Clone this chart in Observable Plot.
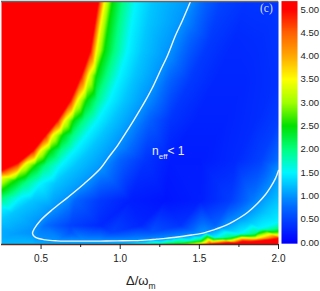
<!DOCTYPE html>
<html><head><meta charset="utf-8">
<script src="https://cdn.jsdelivr.net/npm/d3@7"></script>
<script src="https://cdn.jsdelivr.net/npm/@observablehq/plot@0.6"></script>
<style>
body{margin:0;background:#fff;}
#wrap{position:relative;width:320px;height:291px;overflow:hidden;font-family:"Liberation Sans",Arial,sans-serif;}
#main{position:absolute;left:0;top:0;}
#bar{position:absolute;left:280px;top:0;}
.lbl{position:absolute;white-space:nowrap;}
</style></head>
<body>
<div id="wrap">
<div id="main"></div>
<div id="bar"></div>
<div class="lbl" style="left:126px;top:274px;font-size:13px;line-height:13px;color:#222;">Δ/ω<span style="font-size:8.5px;position:relative;top:4px;">m</span></div>
<div class="lbl" style="left:152px;top:145px;font-size:12px;line-height:12px;color:#eef;">n<span style="font-size:8px;position:relative;top:4px;">eff</span>&lt; 1</div>
<div class="lbl" style="left:260px;top:2px;font-family:'Liberation Serif',serif;font-size:11.5px;line-height:12px;color:#dde;">(c)</div>
</div>
<script>
// ---- axis ticks ----
const xMajor = [0.5, 1.0, 1.5, 2.0];
const xMinor = [0.75, 1.25, 1.75];
const cbTicks = [0, 0.5, 1, 1.5, 2, 2.5, 3, 3.5, 4, 4.5, 5];

// ---- colour palette (value stops -> colours) ----
const colorStops = [0, 0.5, 0.75, 1, 1.25, 1.5, 2, 2.5, 3, 3.5, 4, 4.5, 5];
const colorHex = ["#0000ff", "#0044ff", "#0068ff", "#0094ff", "#00c6ff", "#00f6ff", "#00ff80", "#00e000", "#a0ff00", "#ffff00", "#ffa800", "#ff6000", "#ff0000"];

// ---- iso-lines of n_eff: [Δ/ωm, y] ----
const n5Edge = [[0.863,1.0],[0.838,0.901],[0.812,0.798],[0.755,0.695],[0.686,0.593],[0.604,0.510],[0.528,0.449],[0.452,0.387],[0.357,0.337],[0.25,0.305]];
const n35Edge = [[0.901,1.0],[0.875,0.901],[0.850,0.798],[0.80,0.695],[0.73,0.593],[0.648,0.510],[0.572,0.449],[0.496,0.387],[0.402,0.333],[0.25,0.276]];
const n25Edge = [[0.951,1.0],[0.926,0.901],[0.901,0.798],[0.850,0.695],[0.787,0.593],[0.705,0.510],[0.635,0.449],[0.560,0.387],[0.465,0.325],[0.338,0.263],[0.25,0.222]];
const n2Edge = [[1.014,1.0],[0.989,0.901],[0.964,0.798],[0.913,0.695],[0.850,0.593],[0.768,0.510],[0.699,0.449],[0.623,0.387],[0.528,0.325],[0.402,0.255],[0.25,0.189]];
const n15Edge = [[1.097,1.0],[1.071,0.901],[1.046,0.798],[0.995,0.695],[0.932,0.593],[0.856,0.510],[0.787,0.449],[0.711,0.387],[0.623,0.325],[0.496,0.251],[0.370,0.193],[0.25,0.152]];
const n125Edge = [[1.204,1.0],[1.172,0.901],[1.141,0.798],[1.090,0.695],[1.027,0.593],[0.951,0.510],[0.882,0.449],[0.806,0.387],[0.717,0.325],[0.591,0.251],[0.446,0.181],[0.319,0.128],[0.25,0.099]];
const n1Line = [[1.444,1.0],[1.393,0.922],[1.349,0.860],[1.299,0.778],[1.254,0.716],[1.204,0.646],[1.160,0.593],[1.122,0.551],[1.084,0.510],[1.033,0.457],[0.983,0.407],[0.926,0.358],[0.875,0.313],[0.774,0.251],[0.667,0.193],[0.572,0.144],[0.496,0.099],[0.458,0.066],[0.446,0.045],[0.465,0.029],[0.528,0.019],[0.60,0.015],[0.667,0.014],[0.77,0.014],[0.875,0.014],[0.98,0.015],[1.084,0.016],[1.13,0.017],[1.18,0.019],[1.23,0.022],[1.286,0.025],[1.34,0.029],[1.40,0.034],[1.45,0.039],[1.507,0.045],[1.54,0.050],[1.57,0.056],[1.60,0.062],[1.633,0.070],[1.67,0.080],[1.716,0.095],[1.76,0.112],[1.804,0.132],[1.867,0.169],[1.918,0.206],[1.949,0.235],[1.981,0.272],[2.0,0.305]];
const n125Bottom = [[2.0,0.181],[1.918,0.132],[1.823,0.091],[1.697,0.058],[1.507,0.033],[1.318,0.019],[1.128,0.010],[1.002,0]];
const n15Bottom = [[2.0,0.091],[1.886,0.066],[1.760,0.045],[1.602,0.029],[1.444,0.019],[1.254,0.008],[1.128,0]];
const n2Bottom = [[2.0,0.066],[1.855,0.045],[1.697,0.031],[1.507,0.019],[1.318,0.008],[1.223,0]];
const n25Bottom = [[2.0,0.053],[1.855,0.037],[1.697,0.025],[1.507,0.012],[1.349,0]];
const n35Bottom = [[2.0,0.037],[1.855,0.025],[1.697,0.014],[1.476,0]];
const n5Bottom = [[2.0,0.025],[1.855,0.014],[1.697,0.008],[1.57,0]];

// ---- single readings [Δ/ωm, y, n_eff] ----
const redCore = [[0.25,1,7],[0.55,1,7],[0.25,0.6,7],[0.25,0.4,6],[0.4,0.7,7],[0.6,0.85,7],[2.0,0,8],[1.78,0,6.5]];
const innerPts = [
  [1.539,1.0,0.7],[1.634,1.0,0.5],[1.791,1.0,0.38],[2.0,1.0,0.4],
  [1.444,0.84,0.7],[1.57,0.84,0.42],[1.728,0.84,0.3],[1.886,0.84,0.33],[2.0,0.84,0.38],
  [1.318,0.675,0.7],[1.444,0.675,0.42],[1.602,0.675,0.28],[1.791,0.675,0.28],[2.0,0.675,0.36],
  [1.191,0.510,0.68],[1.318,0.510,0.38],[1.476,0.510,0.25],[1.665,0.510,0.25],[1.855,0.510,0.32],[2.0,0.510,0.45],
  [1.002,0.346,0.7],[1.160,0.346,0.38],[1.318,0.346,0.2],[1.507,0.346,0.2],[1.728,0.346,0.3],[1.886,0.346,0.48],[2.0,0.346,0.8],
  [0.717,0.181,0.72],[0.875,0.181,0.42],[1.065,0.181,0.22],[1.286,0.181,0.15],[1.507,0.181,0.22],[1.697,0.181,0.45],[1.836,0.181,0.85],
  [0.528,0.078,0.78],[0.686,0.078,0.48],[0.875,0.078,0.3],[1.128,0.078,0.28],[1.381,0.078,0.38],[1.602,0.078,0.72],
  [0.686,0.050,0.6],[0.95,0.050,0.48],[1.2,0.050,0.6]
];
const edgePts = [[0.25,0,1.2],[0.45,0,1.2],[0.7,0,1.18],[0.9,0,1.2],[0.25,0.025,1.12],[0.25,0.058,1.12],[0.34,0.045,1.05]];

const traces = [[5,n5Edge],[3.5,n35Edge],[2.5,n25Edge],[2,n2Edge],[1.5,n15Edge],[1.25,n125Edge],[1,n1Line],
  [1.25,n125Bottom],[1.5,n15Bottom],[2,n2Bottom],[2.5,n25Bottom],[3.5,n35Bottom],[5,n5Bottom]];
const samples = traces.flatMap(([n, pts]) => pts.map(([x, y]) => ({x, y, n})))
  .concat([...redCore, ...innerPts, ...edgePts].map(([x, y, n]) => ({x, y, n})));

const colorScale = {type: "linear", domain: colorStops, range: colorHex, clamp: true, interpolate: "rgb"};

const main = Plot.plot({
  width: 320, height: 291,
  marginLeft: 1, marginRight: 42, marginTop: 1, marginBottom: 47,
  x: {domain: [0.25, 2.0]},
  y: {domain: [0, 1], axis: null},
  color: colorScale,
  style: {fontFamily: "Liberation Sans, Arial, sans-serif", fontSize: "10px", color: "#222", background: "transparent", overflow: "visible"},
  marks: [
    Plot.raster(samples, {x: "x", y: "y", fill: "n", interpolate: "barycentric", x1: 0.25, x2: 2.0, y1: 0, y2: 1, pixelSize: 1}),
    Plot.line(n1Line, {x: d => d[0], y: d => d[1], stroke: "#f4f4ff", strokeWidth: 1.4, curve: "catmull-rom"}),
    Plot.ruleY([0], {stroke: "#5b2b22", strokeWidth: 1.5}),
    Plot.ruleY([1], {stroke: "#666", strokeWidth: 1.5}),
    Plot.axisX({ticks: xMajor, tickSize: 5, tickPadding: 5, tickFormat: d3.format(".1f"), label: null}),
    Plot.axisX({ticks: xMinor, tickSize: 3, tickFormat: () => "", label: null})
  ]
});
document.getElementById("main").append(main);

const bar = Plot.plot({
  width: 40, height: 260,
  marginLeft: 1, marginRight: 23, marginTop: 0, marginBottom: 0,
  x: {domain: [0, 1], axis: null},
  y: {domain: [0, 5], range: [242, 9]},
  color: colorScale,
  style: {fontFamily: "Liberation Sans, Arial, sans-serif", fontSize: "9.5px", color: "#222", background: "transparent", overflow: "visible"},
  marks: [
    Plot.raster({fill: (x, y) => y, x1: 0, x2: 1, y1: -0.025, y2: 5.18, pixelSize: 1}),
    Plot.axisY({anchor: "right", ticks: cbTicks, tickSize: 0, tickPadding: 3, tickFormat: d3.format(".2f"), label: null})
  ]
});
document.getElementById("bar").append(bar);
</script>
</body></html>
